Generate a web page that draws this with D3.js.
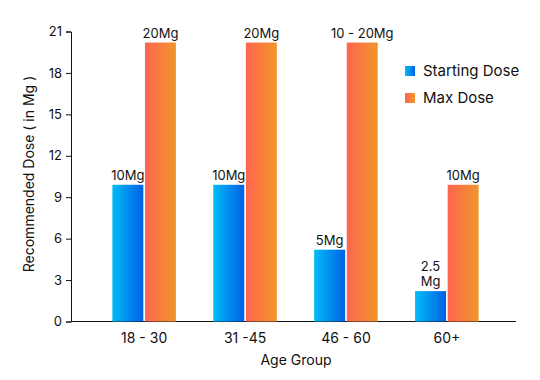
<!DOCTYPE html>
<html lang='en'>
<head>
<meta charset='utf-8'/>
<title>Recommended Dose</title>
<script src='https://d3js.org/d3.v7.min.js'></script>
<style>
  body { margin: 0; background: #fff; }
  text { font-family: 'Inter', 'Lato', sans-serif; fill: #111; }
</style>
</head>
<body>
<script>
'use strict'
// chart values
const groups = ['18 - 30', '31 -45', '46 - 60', '60+']
const startDose = [9.9, 9.9, 5.2, 2.2]
const maxDose = [20.2, 20.2, 20.2, 9.9]
const startLabels = [['10Mg'], ['10Mg'], ['5Mg'], ['2.5', 'Mg']]
const maxLabels = [['20Mg'], ['20Mg'], ['10 - 20Mg'], ['10Mg']]
const yTicks = [0, 3, 6, 9, 12, 15, 18, 21]
const seriesNames = ['Starting Dose', 'Max Dose']

const width = 540, height = 380
const svg = d3.select('body').append('svg')
  .attr('width', width).attr('height', height)

const defs = svg.append('defs')
function grad(id, c1, c2) {
  const g = defs.append('linearGradient').attr('id', id)
    .attr('x1', '0%').attr('x2', '100%').attr('y1', '0%').attr('y2', '0%')
  g.append('stop').attr('offset', '0%').attr('stop-color', c1)
  g.append('stop').attr('offset', '100%').attr('stop-color', c2)
}
grad('gBlue', '#00bcf6', '#0060e6')
grad('gOrange', '#ff6550', '#f0962a')
const fills = ['url(#gBlue)', 'url(#gOrange)']

const x0 = 71, x1 = 520
const y = d3.scaleLinear().domain([0, 21]).range([321.5, 31.5])
const x = d3.scaleBand().domain(groups).range([x0, x1]).paddingInner(0.37).paddingOuter(0.41)
const xs = d3.scaleBand().domain([0, 1]).range([0, x.bandwidth()]).paddingInner(0.05)

// y axis
const yAxis = svg.append('g').attr('transform', `translate(${x0},0)`)
  .call(d3.axisLeft(y).tickValues(yTicks).tickSize(5).tickPadding(4))
yAxis.selectAll('text').style('font-size', '13px')
yAxis.select('.domain').attr('stroke', '#111')
yAxis.selectAll('.tick line').attr('stroke', '#111')

// x axis line
svg.append('line').attr('x1', x0).attr('x2', 516)
  .attr('y1', y(0)).attr('y2', y(0)).attr('stroke', '#111')

svg.selectAll('.xlab').data(groups).enter().append('text')
  .attr('x', d => x(d) + x.bandwidth() / 2).attr('y', 343)
  .attr('text-anchor', 'middle').style('font-size', '14px').text(d => d)

svg.append('text').attr('x', 296).attr('y', 365).attr('text-anchor', 'middle')
  .style('font-size', '14px').text('Age Group')

svg.append('text').attr('transform', 'translate(34,174) rotate(-90)')
  .attr('text-anchor', 'middle').style('font-size', '14px')
  .text('Recommended Dose ( in Mg )')

// bars
const series = [startDose, maxDose]
const labels = [startLabels, maxLabels]
series.forEach((vals, s) => {
  groups.forEach((g, i) => {
    const bx = x(g) + xs(s)
    svg.append('rect').attr('x', bx).attr('y', y(vals[i]))
      .attr('width', xs.bandwidth()).attr('height', y(0) - y(vals[i]))
      .attr('fill', fills[s])
    const lines = labels[s][i]
    const t = svg.append('text').attr('text-anchor', 'middle').style('font-size', '13px')
    lines.forEach((ln, k) => {
      t.append('tspan').attr('x', bx + xs.bandwidth() / 2)
        .attr('y', y(vals[i]) - 5 - (lines.length - 1 - k) * 15).text(ln)
    })
  })
})

// legend
const leg = svg.append('g').attr('transform', 'translate(405,66)')
seriesNames.forEach((n, i) => {
  leg.append('rect').attr('x', 0).attr('y', i * 27).attr('width', 10).attr('height', 10)
    .attr('fill', fills[i])
  leg.append('text').attr('x', 18).attr('y', i * 27 + 10).style('font-size', '15px').text(n)
})
</script>
</body>
</html>
